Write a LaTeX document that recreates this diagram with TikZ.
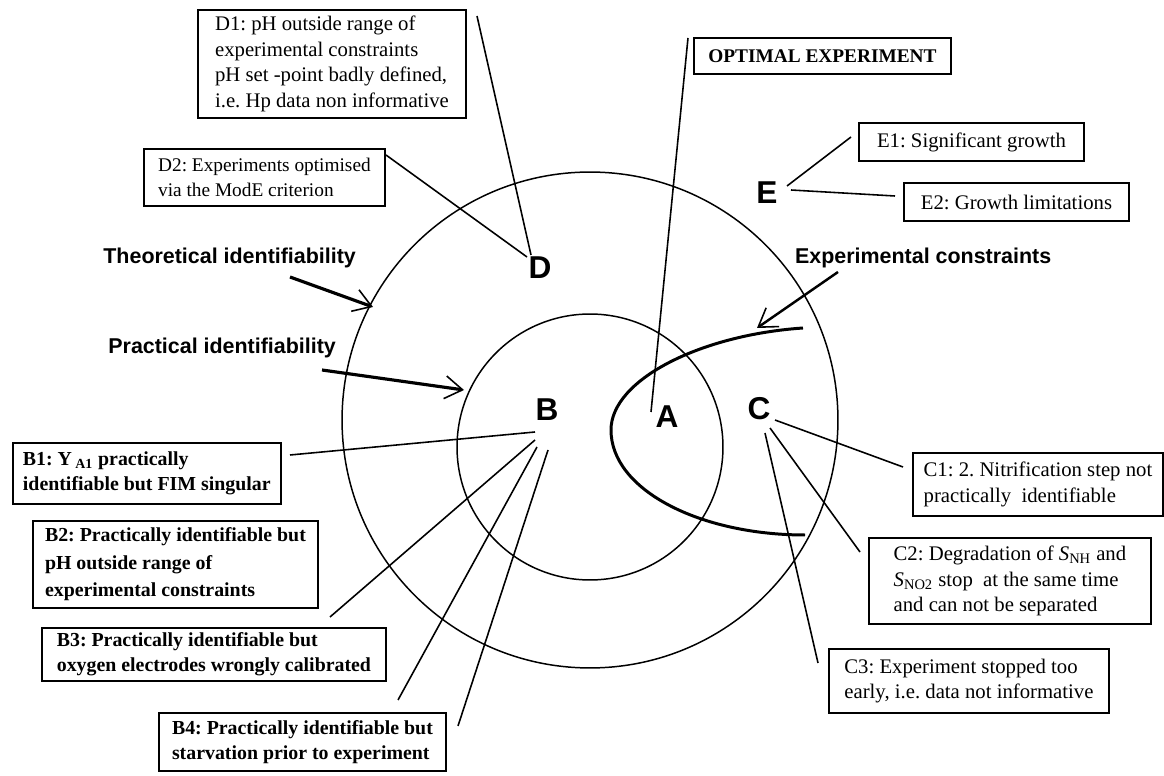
\documentclass[tikz,border=0pt]{standalone}
\usepackage{fontspec}
\setmainfont{Liberation Serif}
\setsansfont{Liberation Sans}
\usetikzlibrary{arrows.meta}

\tikzset{
    box/.style={draw, line width=1.1pt, anchor=north west, align=left,
        inner xsep=0.2cm, inner ysep=0pt, font=\fontsize{11.8}{14.5}\selectfont},
    boldbox/.style={box, font=\bfseries\fontsize{11.3}{14.5}\selectfont},
    zone/.style={font=\sffamily\bfseries\fontsize{18}{18}\selectfont, inner sep=1pt},
    tag/.style={font=\sffamily\bfseries\fontsize{12.2}{14}\selectfont, inner sep=1pt},
    lead/.style={line width=0.9pt},
    pointer/.style={line width=1.8pt, -{Straight Barb[length=10pt, width=13pt, line width=0.9pt]}},
}

\begin{document}
\frenchspacing
\begin{tikzpicture}[x=0.02cm, y=-0.02cm]
        \useasboundingbox (0,0) rectangle (1164,776);

        % identifiability regions
        \draw[line width=0.85pt] (590,420) circle [radius=4.96cm];
        \draw[line width=0.85pt] (590,447) circle [radius=2.66cm];
        \draw[line width=1.7pt] (803,328) .. controls (700,335) and (611,380) .. (611,430)
            .. controls (611,490) and (700,535) .. (805,535);

        \node[zone] (A) at (667,417) {A};
        \node[zone] (B) at (547,410) {B};
        \node[zone] (C) at (759,409) {C};
        \node[zone] (D) at (540,268) {D};
        \node[zone] (E) at (767,193) {E};

        \node[tag, anchor=east] (theo) at (358,258) {Theoretical identifiability};
        \node[tag, anchor=east] (prac) at (338,348) {Practical identifiability};
        \node[tag, anchor=west] (cons) at (793,258) {Experimental constraints};

        \node[box, minimum width=5.36cm, minimum height=2.16cm] (d1) at (197,9)
            {D1: pH outside range of\\experimental constraints\\pH set -point badly defined,\\i.e. Hp data non informative};
        \node[box, minimum width=4.82cm, minimum height=1.14cm, font=\fontsize{11}{14.5}\selectfont] (d2) at (143,148)
            {D2: Experiments optimised\\via the ModE criterion};
        \node[box, minimum width=5.14cm, minimum height=0.72cm, font=\bfseries\fontsize{11}{12}\selectfont] (opt) at (693,37)
            {OPTIMAL EXPERIMENT};
        \node[box, minimum width=4.5cm, minimum height=0.76cm] (e1) at (858,122) {E1: Significant growth};
        \node[box, minimum width=4.5cm, minimum height=0.76cm] (e2) at (903,182) {E2: Growth limitations};

        \node[boldbox, minimum width=5.34cm, minimum height=1.22cm] (b1) at (12,442)
            {B1: Y\,\textsubscript{A1} practically\\identifiable but FIM singular};
        \node[boldbox, minimum width=5.7cm, minimum height=1.74cm, font=\bfseries\fontsize{11.3}{15.6}\selectfont] (b2) at (32,520)
            {B2: Practically identifiable but\\pH outside range of\\experimental constraints};
        \node[boldbox, minimum width=6.88cm, minimum height=1.06cm] (b3) at (41,627)
            {B3: Practically identifiable but\\oxygen electrodes wrongly calibrated};
        \node[boldbox, minimum width=5.74cm, minimum height=1.16cm] (b4) at (158,712)
            {B4: Practically identifiable but\\starvation prior to experiment};

        \node[box, minimum width=5cm, minimum height=1.26cm] (c1) at (912,452)
            {C1: 2. Nitrification step not\\practically\ \ identifiable};
        \node[box, minimum width=5.64cm, minimum height=1.72cm] (c2) at (868,537)
            {C2: Degradation of \textit{S}\textsubscript{NH} and\\\textit{S}\textsubscript{NO2} stop\ \ at the same time\\and can not be separated};
        \node[box, minimum width=5.6cm, minimum height=1.28cm] (c3) at (828,648)
            {C3: Experiment stopped too\\early, i.e. data not informative};

        % ends of the leader lines
        \coordinate (d1-end) at (477,16);   \coordinate (d1-tip) at (531,255);
        \coordinate (d2-end) at (386,155);  \coordinate (d2-tip) at (527,257);
        \coordinate (opt-end) at (688,38);  \coordinate (opt-tip) at (651,412);
        \coordinate (e1-end) at (851,137);  \coordinate (e1-tip) at (787,186);
        \coordinate (e2-end) at (895,196);  \coordinate (e2-tip) at (791,190);
        \coordinate (b1-end) at (290,455);  \coordinate (b1-tip) at (535,432);
        \coordinate (b2-end) at (330,617);  \coordinate (b2-tip) at (535,440);
        \coordinate (b3-end) at (398,700);  \coordinate (b3-tip) at (537,447);
        \coordinate (b4-end) at (458,726);  \coordinate (b4-tip) at (548,450);
        \coordinate (c1-end) at (903,467);  \coordinate (c1-tip) at (775,420);
        \coordinate (c2-end) at (860,552);  \coordinate (c2-tip) at (770,428);
        \coordinate (c3-end) at (818,663);  \coordinate (c3-tip) at (765,433);

        \foreach \n in {d1,d2,opt,e1,e2,b1,b2,b3,b4,c1,c2,c3}
            \draw[lead] (\n-end) -- (\n-tip);

        \coordinate (theo-end) at (290,277); \coordinate (theo-tip) at (373,307);
        \coordinate (prac-end) at (322,370); \coordinate (prac-tip) at (464,390);
        \coordinate (cons-end) at (838,272); \coordinate (cons-tip) at (757,328);

        \draw[pointer] (theo-end) -- (theo-tip);
        \draw[pointer] (prac-end) -- (prac-tip);
        \draw[pointer, line width=1.4pt] (cons-end) -- (cons-tip);
    \end{tikzpicture}
\end{document}
